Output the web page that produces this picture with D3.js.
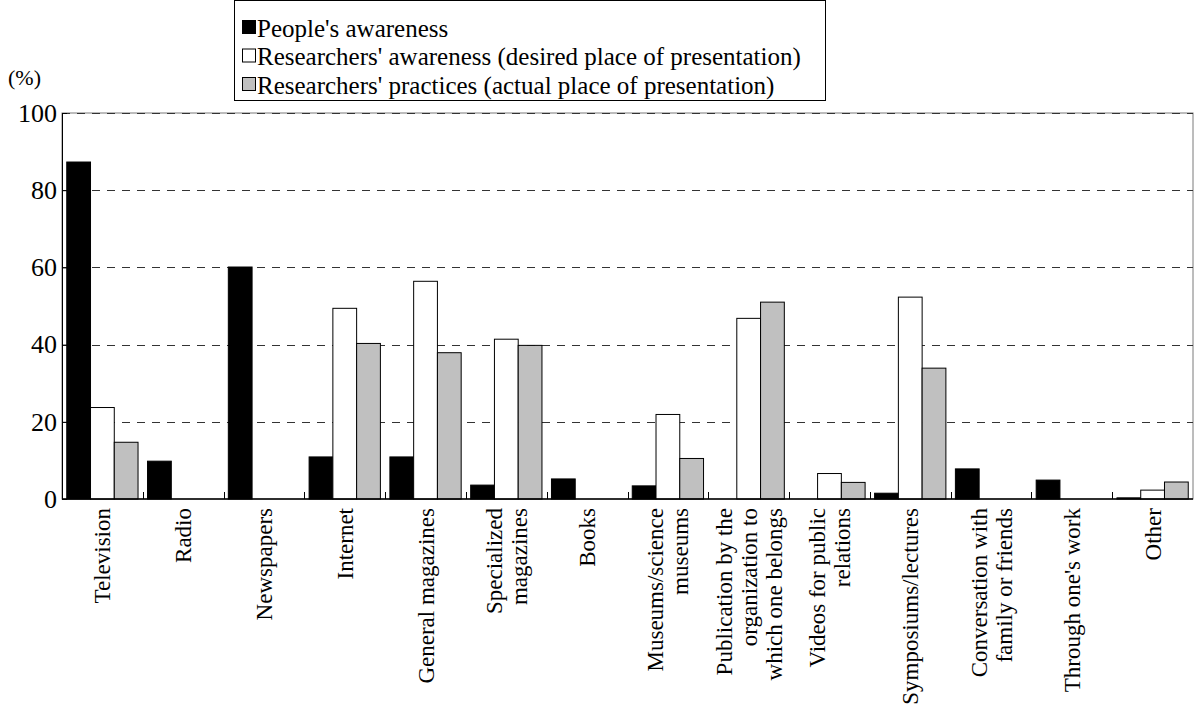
<!DOCTYPE html>
<html>
<head>
<meta charset="utf-8">
<script src="https://cdn.jsdelivr.net/npm/d3@7"></script>
<style>
  html, body { margin: 0; padding: 0; background: #fff; }
  svg { display: block; }
  svg text { font-family: "Liberation Serif", "Times New Roman", serif; fill: #000; }
</style>
</head>
<body>
<svg id="chart" width="1194" height="713"></svg>
<script>
// Categories (line breaks mark wrapped axis labels)
const categories = [
  "Television",
  "Radio",
  "Newspapers",
  "Internet",
  "General magazines",
  "Specialized\nmagazines",
  "Books",
  "Museums/science\nmuseums",
  "Publication by the\norganization to\nwhich one belongs",
  "Videos for public\nrelations",
  "Symposiums/lectures",
  "Conversation with\nfamily or friends",
  "Through one's work",
  "Other"
];

const seriesNames = [
  "People's awareness",
  "Researchers' awareness (desired place of presentation)",
  "Researchers' practices (actual place of presentation)"
];

// Percentages per category
const peopleAwareness    = [87.3, 9.8, 60.1, 10.9, 10.9, 3.6, 5.2, 3.4, 0, 0, 1.5, 7.8, 4.9, 0.3];
const researchersDesired = [23.7, 0, 0, 49.4, 56.4, 41.4, 0, 21.9, 46.8, 6.6, 52.3, 0, 0, 2.3];
const researchersActual  = [14.7, 0, 0, 40.3, 37.9, 39.8, 0, 10.5, 51.0, 4.3, 33.9, 0, 0, 4.4];

const yTicks = [0, 20, 40, 60, 80, 100];
const yUnit = "(%)";

const seriesFill = ["#000000", "#ffffff", "#c0c0c0"];
const FONT = "Liberation Serif";

const svg = d3.select("#chart");
const plot = { left: 62, right: 1193, top: 113, bottom: 499 };

const x = d3.scaleBand()
  .domain(d3.range(categories.length))
  .range([plot.left, plot.right]);

const inner = d3.scaleBand()
  .domain(d3.range(3))
  .range([0, x.bandwidth()])
  .paddingOuter(0.2)
  .paddingInner(0);

const y = d3.scaleLinear().domain([0, 100]).range([plot.bottom, plot.top]);

// Plot frame
svg.append("rect")
  .attr("x", plot.left).attr("y", plot.top)
  .attr("width", plot.right - plot.left).attr("height", plot.bottom - plot.top)
  .attr("fill", "none").attr("stroke", "#7a7a7a").attr("stroke-width", 1);

// Dashed gridlines
svg.append("g").selectAll("line")
  .data(yTicks.filter(d => d > 0))
  .join("line")
  .attr("x1", plot.left).attr("x2", plot.right)
  .attr("y1", d => Math.round(y(d)) + 0.5).attr("y2", d => Math.round(y(d)) + 0.5)
  .attr("stroke", "#333")
  .attr("stroke-width", 1)
  .attr("stroke-dasharray", "8,7");

// Bars
const series = [peopleAwareness, researchersDesired, researchersActual];
series.forEach((vals, s) => {
  svg.append("g").selectAll("rect")
    .data(vals.map((v, i) => ({ v, i })).filter(d => d.v > 0))
    .join("rect")
    .attr("x", d => x(d.i) + inner(s))
    .attr("y", d => y(d.v))
    .attr("width", inner.bandwidth())
    .attr("height", d => y(0) - y(d.v))
    .attr("fill", seriesFill[s])
    .attr("stroke", "#000")
    .attr("stroke-width", 1);
});

// Y axis (ticks pointing into the plot)
const yAxis = d3.axisLeft(y).tickValues(yTicks).tickSize(-5).tickPadding(5);
const gy = svg.append("g")
  .attr("transform", `translate(${plot.left},0)`)
  .call(yAxis)
  .attr("font-family", FONT);
gy.select(".domain").attr("stroke", "#000");
gy.selectAll(".tick line").attr("stroke", "#000");
gy.selectAll(".tick text")
  .attr("font-family", FONT)
  .attr("font-size", 26)
  .attr("fill", "#000");

svg.append("text")
  .attr("x", 8).attr("y", 85)
  .attr("font-family", FONT)
  .attr("font-size", 22)
  .text(yUnit);

// X axis baseline with separators between categories
svg.append("line")
  .attr("x1", plot.left).attr("x2", plot.right)
  .attr("y1", plot.bottom).attr("y2", plot.bottom)
  .attr("stroke", "#000").attr("stroke-width", 1.5);

svg.append("g").selectAll("line")
  .data(d3.range(1, categories.length))
  .join("line")
  .attr("x1", i => Math.round(x(i)) + 0.5).attr("x2", i => Math.round(x(i)) + 0.5)
  .attr("y1", plot.bottom).attr("y2", plot.bottom - 7)
  .attr("stroke", "#000");

// Rotated category labels
const lineGap = 25;
const labels = svg.append("g").selectAll("g")
  .data(categories.map((c, i) => ({ lines: c.split("\n"), i })))
  .join("g")
  .attr("transform", d => `translate(${x(d.i) + x.bandwidth() / 2},${plot.bottom + 9}) rotate(-90)`);

labels.each(function(d) {
  const n = d.lines.length;
  d3.select(this).selectAll("text")
    .data(d.lines)
    .join("text")
    .attr("x", 0)
    .attr("y", (l, k) => (k - (n - 1) / 2) * lineGap)
    .attr("dy", "0.35em")
    .attr("text-anchor", "end")
    .attr("font-family", FONT)
    .attr("font-size", 23)
    .text(l => l);
});

// Legend
const legend = svg.append("g");
legend.append("rect")
  .attr("x", 234.5).attr("y", 0.5).attr("width", 591).attr("height", 100)
  .attr("fill", "#fff").attr("stroke", "#000");

seriesNames.forEach((name, s) => {
  const cy = 28 + s * 28.5;
  legend.append("rect")
    .attr("x", 242.5).attr("y", cy - 7.5).attr("width", 13).attr("height", 13)
    .attr("fill", seriesFill[s]).attr("stroke", "#000").attr("stroke-width", 1);
  legend.append("text")
    .attr("x", 257).attr("y", cy)
    .attr("dy", "0.35em")
    .attr("font-family", FONT)
    .attr("font-size", 25)
    .text(name);
});
</script>
</body>
</html>
